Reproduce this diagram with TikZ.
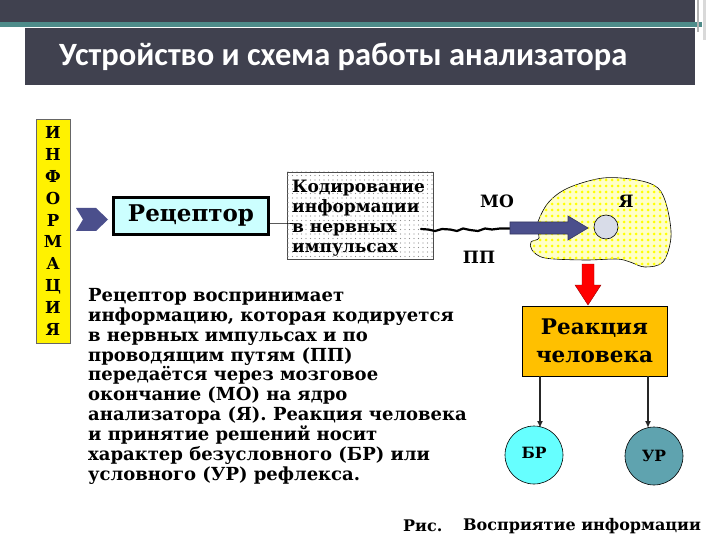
\documentclass[tikz,border=0pt]{standalone}
\usepackage{fontspec}
\setmainfont{DejaVu Serif}
\newfontfamily\titlefont{Carlito}
\usetikzlibrary{patterns.meta,arrows.meta}
\definecolor{band}{HTML}{40414F}
\definecolor{tealline}{HTML}{4E8C8A}
\definecolor{chev}{HTML}{4B4F8C}
\definecolor{cyanbox}{HTML}{CCFFFF}
\definecolor{lightyel}{HTML}{FFFFC8}
\definecolor{nuc}{HTML}{D8DCE8}
\definecolor{orangebox}{HTML}{FFC000}
\definecolor{brfill}{HTML}{66FFFF}
\definecolor{urfill}{HTML}{5FA3AF}
\tikzset{
  lbl/.style={font=\bfseries\fontsize{17}{20}\selectfont, inner sep=0pt},
  conn/.style={draw=black, line width=1pt},
  arr/.style={draw=black!85, line width=1.8pt, -{Latex[length=7pt,width=6pt]}},
  circ/.style={circle, draw=black, line width=0.6pt, minimum size=58pt, inner sep=0pt, font=\bfseries\fontsize{15.5}{18}\selectfont}
}
\begin{document}
\begin{tikzpicture}[x=1pt,y=-1pt]
\useasboundingbox (0,0) rectangle (720,540);
\fill[white] (0,0) rectangle (720,540);
% header
\fill[band] (0,0) rectangle (695,22);
\fill[tealline] (0,22) rectangle (702,27);
\fill[gray!60] (697,0) rectangle (699,32);
\fill[gray!30] (703,0) rectangle (706,40);
\fill[band] (25,28) rectangle (695,85);
\node[text=white, font=\titlefont\bfseries\fontsize{32.5}{34}\selectfont, anchor=west, inner sep=0pt] (title) at (59,57) {Устройство и схема работы анализатора};
% info bar
\node[draw=black!60, line width=0.4pt, fill=yellow, minimum width=34pt, minimum height=224pt, inner sep=0pt, align=center, font=\bfseries\fontsize{16.5}{21.9}\selectfont] (info) at (53,231) {И\\Н\\Ф\\О\\Р\\М\\А\\Ц\\И\\Я};
% chevron
\fill[chev] (76,208) -- (96,208) -- (108,219.5) -- (96,231) -- (76,231) -- (83,219.5) -- cycle;
% receptor
\node[draw=black, line width=3pt, fill=cyanbox, minimum width=155pt, minimum height=37pt, inner sep=0pt, font=\bfseries\fontsize{23}{26}\selectfont] (receptor) at (191,216) {Рецептор};
% coding box
\node[draw=black!70, line width=0.6pt, fill=white, minimum width=146pt, minimum height=87pt, inner sep=0pt] (codingbox) at (360,215.5) {};
\path[pattern={Dots[distance=4.5pt,radius=0.7pt]}, pattern color=black!45] (codingbox.south west) rectangle (codingbox.north east);
\node[anchor=north west, align=left, font=\bfseries\fontsize{17}{20}\selectfont, inner sep=0pt] (coding) at (292,180) {Кодирование\\информации\\в нервных\\импульсах};
\draw[conn, line width=0.6pt] (receptor.east |- 0,223) -- (codingbox.west |- 0,223) -- ++(6,0);
% brain
\path[draw=black, line width=0.6pt, fill=lightyel] plot[smooth cycle, tension=0.55] coordinates {
(537,225) (548,203) (568,188) (603,178) (637,180) (658,188) (667,207) (671,237) (663,262) (645,267) (630,262) (617,259) (585,260) (545,258) (532,250) (531,242) (539,238)};
\path[pattern={Dots[distance=6pt,radius=1.5pt]}, pattern color=yellow] plot[smooth cycle, tension=0.55] coordinates {
(537,225) (548,203) (568,188) (603,178) (637,180) (658,188) (667,207) (671,237) (663,262) (645,267) (630,262) (617,259) (585,260) (545,258) (532,250) (531,242) (539,238)};
\node[circle, draw=black, line width=0.6pt, fill=nuc, minimum size=24pt, inner sep=0pt] (nucleus) at (606,227) {};
\node[lbl] (mo) at (497,201) {МО};
\node[lbl] (ya) at (626,201) {Я};
\node[lbl] (pp) at (479,257) {ПП};
% wavy nerve line
\draw[black, line width=2.2pt, line cap=round] (421,229) -- (428,229.5) -- (435,231) -- (442,229) -- (450,229.5) -- (457,231) -- (463,228.5) -- (470,230) -- (478,231) -- (485,228.5) -- (492,229.5) -- (500,228.5) -- (511,228.5);
% blue arrow
\coordinate (mostart) at (510,228);
\draw[fill=chev, draw=chev!70!black, line width=0.6pt] (mostart) ++(0,-6) -- (568,222) -- (568,216) -- (588,228) -- (568,240) -- (568,234) -- (510,234) -- cycle;
% red arrow
\fill[red, draw=red!60!black, line width=0.4pt] (582,264) -- (594,264) -- (594,285) -- (601,285) -- (588,305) -- (575,285) -- (582,285) -- cycle;
% reaction
\node[draw=black, line width=0.6pt, fill=orangebox, minimum width=145pt, minimum height=70pt, inner sep=0pt, align=center, font=\bfseries\fontsize{21.5}{28}\selectfont] (reaction) at (594.5,341) {Реакция\\человека};
% БР, УР
\node[circ, fill=brfill] (br) at (534,455) {\raisebox{4pt}{БР}};
\node[circ, fill=urfill] (ur) at (654,456) {УР};
\coordinate (xa) at (540,0);
\coordinate (xb) at (648,0);
\draw[arr] (reaction.south -| xa) -- (540,428);
\draw[arr] (reaction.south -| xb) -- (648,428);
% body text
\node[anchor=north west, align=left, font=\bfseries\fontsize{18}{19.9}\selectfont, inner sep=0pt] (body) at (88,288) {Рецептор воспринимает\\информацию, которая кодируется\\в нервных импульсах и по\\проводящим путям (ПП)\\передаётся через мозговое\\окончание (МО) на ядро\\анализатора (Я). Реакция человека\\и принятие решений носит\\характер безусловного (БР) или\\условного (УР) рефлекса.};
% caption
\node[anchor=west, font=\bfseries\fontsize{16}{19}\selectfont, inner sep=0pt] (capa) at (403,526) {Рис.};
\node[anchor=west, font=\bfseries\fontsize{16}{19}\selectfont, inner sep=0pt] (capb) at (463,526) {Восприятие информации};
\end{tikzpicture}
\end{document}
